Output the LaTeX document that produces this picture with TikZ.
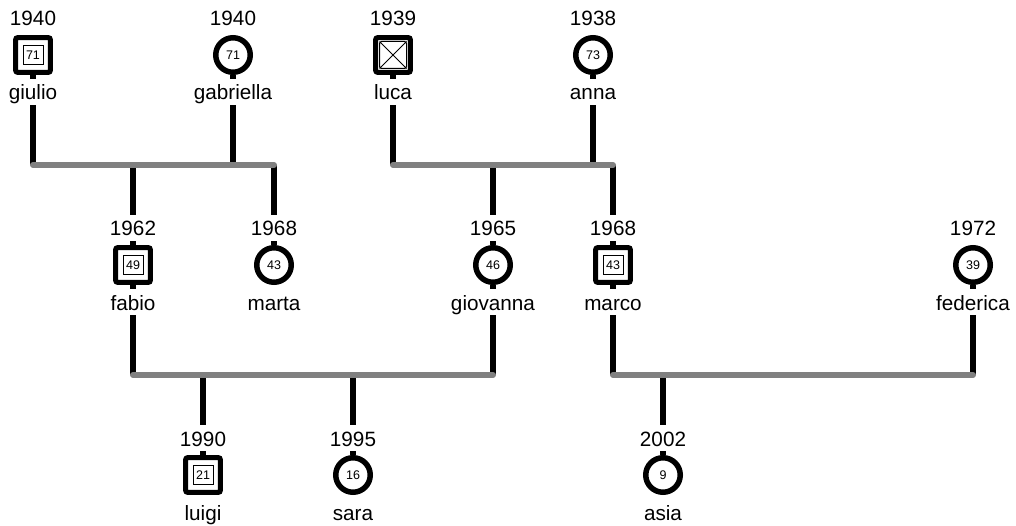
\documentclass[tikz,border=0pt]{standalone}
\usepackage{fontspec}
\setmainfont{Liberation Sans}
\newcommand\labelfont{\fontsize{20.7pt}{24pt}\selectfont}
\newcommand\agefont{\fontsize{12.5pt}{14pt}\selectfont}

\tikzset{
  symb/.style={draw, fill=white, inner sep=0pt},
  male/.style={rectangle, line width=5pt, rounded corners=2pt, minimum size=34.7pt},
  female/.style={circle, line width=5.5pt, minimum size=34.5pt},
  deceased/.style={rectangle, line width=5pt, rounded corners=2pt, minimum size=34.7pt,
    path picture={
      \draw[line width=1pt]
        ([xshift=-13.5pt,yshift=-13.5pt]path picture bounding box.center) rectangle
        ([xshift=13.5pt,yshift=13.5pt]path picture bounding box.center)
        ([xshift=-13.5pt,yshift=-13.5pt]path picture bounding box.center) --
        ([xshift=13.5pt,yshift=13.5pt]path picture bounding box.center)
        ([xshift=-13.5pt,yshift=13.5pt]path picture bounding box.center) --
        ([xshift=13.5pt,yshift=-13.5pt]path picture bounding box.center);
    }},
  labeltext/.style={anchor=base, inner sep=0pt, text height=21pt, text depth=5pt, font=\labelfont},
  agebox/.style={draw, line width=0.8pt, minimum width=20pt, minimum height=19pt, inner sep=0pt, font=\agefont},
  agetext/.style={inner sep=0pt, font=\agefont},
  line/.style={draw=black, line width=5.5pt},
  bar/.style={draw=gray, line width=6pt, line cap=round},
}

% one person: id, x, row offset, shape style, year, name
\newcommand\pers[6]{%
  \node[symb,#4] (#1) at (#2,#3+55) {};
  \node[labeltext] (#1-year) at (#2,#3+26) {#5};
  \node[labeltext] (#1-name) at (#2,#3+100) {#6};
}

\begin{document}
\begin{tikzpicture}[x=1pt,y=-1pt]
  \fill[white] (0,0) rectangle (1016,526);
  \useasboundingbox (0,0) rectangle (1016,526);

  % couple bars
  \coordinate (bar1) at (0,165);
  \coordinate (bar2) at (0,375);

  % generation 1
  \pers{giulio}{33}{0}{male}{1940}{giulio}
  \pers{gabriella}{233}{0}{female}{1940}{gabriella}
  \pers{luca}{393}{0}{deceased}{1939}{luca}
  \pers{anna}{593}{0}{female}{1938}{anna}
  % generation 2
  \pers{fabio}{133}{210}{male}{1962}{fabio}
  \pers{marta}{274}{210}{female}{1968}{marta}
  \pers{giovanna}{493}{210}{female}{1965}{giovanna}
  \pers{marco}{613}{210}{male}{1968}{marco}
  \pers{federica}{973}{210}{female}{1972}{federica}
  % generation 3
  \pers{luigi}{203}{420}{male}{1990}{luigi}
  \pers{sara}{353}{420}{female}{1995}{sara}
  \pers{asia}{663}{420}{female}{2002}{asia}

  % ages
  \node[agebox]  (giulio-age)    at (giulio)    {71};
  \node[agetext] (gabriella-age) at (gabriella) {71};
  \node[agetext] (anna-age)      at (anna)      {73};
  \node[agebox]  (fabio-age)     at (fabio)     {49};
  \node[agetext] (marta-age)     at (marta)     {43};
  \node[agetext] (giovanna-age)  at (giovanna)  {46};
  \node[agebox]  (marco-age)     at (marco)     {43};
  \node[agetext] (federica-age)  at (federica)  {39};
  \node[agebox]  (luigi-age)     at (luigi)     {21};
  \node[agetext] (sara-age)      at (sara)      {16};
  \node[agetext] (asia-age)      at (asia)      {9};

  % lines from each symbol down past its name
  \foreach \p in {giulio,gabriella,luca,anna,fabio,giovanna,marco,federica}{
    \draw[line] (\p) -- (\p-name);
  }
  % lines from children up past their year
  \foreach \p in {fabio,marta,giovanna,marco,luigi,sara,asia}{
    \draw[line] (\p-year) -- (\p);
  }

  % parents to couple bars
  \foreach \p in {giulio,gabriella,luca,anna}{
    \draw[line] (\p-name) -- (\p |- bar1);
  }
  \foreach \p in {fabio,giovanna,marco,federica}{
    \draw[line] (\p-name) -- (\p |- bar2);
  }
  % couple bars to children
  \foreach \p in {fabio,marta,giovanna,marco}{
    \draw[line] (\p |- bar1) -- (\p-year);
  }
  \foreach \p in {luigi,sara,asia}{
    \draw[line] (\p |- bar2) -- (\p-year);
  }

  % couple bars on top
  \draw[bar] (giulio |- bar1) -- (marta |- bar1);
  \draw[bar] (luca |- bar1) -- (marco |- bar1);
  \draw[bar] (fabio |- bar2) -- (giovanna |- bar2);
  \draw[bar] (marco |- bar2) -- (federica |- bar2);
\end{tikzpicture}
\end{document}
